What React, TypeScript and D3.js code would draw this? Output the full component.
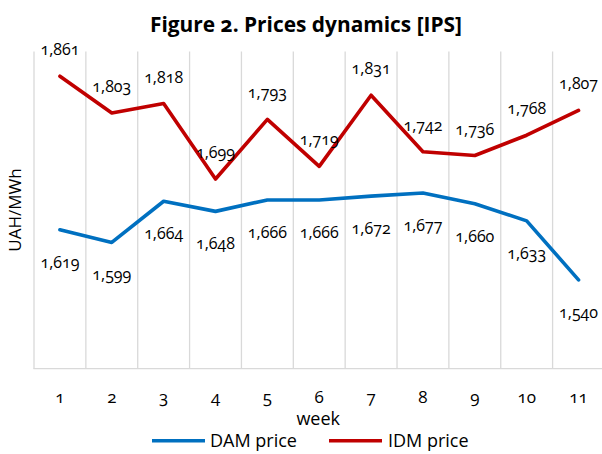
import React from "react";
import * as d3 from "d3";

const weeks = ["1", "2", "3", "4", "5", "6", "7", "8", "9", "10", "11"];
const damPrice = [1619, 1599, 1664, 1648, 1666, 1666, 1672, 1677, 1660, 1633, 1540];
const idmPrice = [1861, 1803, 1818, 1699, 1793, 1719, 1831, 1742, 1736, 1768, 1807];
const seriesNames = ["DAM price", "IDM price"];
const title = "Figure 2. Prices dynamics [IPS]";
const xTitle = "week";
const yTitle = "UAH/MWh";

const W = 602;
const H = 454;
const left = 34;
const band = 51.86;
const top = 51.5;
const bottom = 368.7;
const BLUE = "#0070C0";
const RED = "#C00000";
const GRID = "#d9d9d9";
const FONT = "'Open Sans', 'Noto Sans', sans-serif";

export default function App() {
  const x = d3.scaleBand<string>().domain(weeks).range([left, left + band * weeks.length]).padding(0);
  const y = d3.scaleLinear().domain([1400, 1900]).range([bottom, top]);
  const cx = (w: string) => (x(w) as number) + x.bandwidth() / 2;
  const line = d3
    .line<number>()
    .x((_, i) => cx(weeks[i]))
    .y((d) => y(d));

  const boundaries = d3.range(weeks.length + 1).map((i) => left + i * x.bandwidth());

  const numStyle: React.CSSProperties = { fontVariantNumeric: "oldstyle-nums" };
  const fmt = d3.format(",");

  return (
    <svg
      width={W}
      height={H}
      viewBox={`0 0 ${W} ${H}`}
      style={{ position: "absolute", left: 0, top: 0, background: "#fff", fontFamily: FONT }}
    >
      <rect x={0} y={0} width={W} height={H} fill="#fff" />
      {/* title */}
      <text
        x={306}
        y={31.7}
        textAnchor="middle"
        fontSize={21}
        fontWeight={700}
        fill="#000"
        textLength={312}
        lengthAdjust="spacingAndGlyphs"
        style={numStyle}
      >
        {title}
      </text>

      {/* vertical gridlines */}
      {boundaries.map((bx, i) => (
        <line key={i} x1={bx} x2={bx} y1={top} y2={bottom} stroke={GRID} strokeWidth={1.3} />
      ))}
      <line x1={left - 0.6} x2={W} y1={bottom} y2={bottom} stroke={GRID} strokeWidth={1.3} />

      {/* lines */}
      <path d={line(damPrice) || ""} fill="none" stroke={BLUE} strokeWidth={3.6} strokeLinejoin="round" strokeLinecap="round" />
      <path d={line(idmPrice) || ""} fill="none" stroke={RED} strokeWidth={3.6} strokeLinejoin="round" strokeLinecap="round" />

      {/* data labels */}
      {idmPrice.map((v, i) => (
        <text
          key={"i" + i}
          x={cx(weeks[i])}
          y={y(v) - 21}
          textAnchor="middle"
          fontSize={16}
          fill="#000"
          style={numStyle}
        >
          {fmt(v)}
        </text>
      ))}
      {damPrice.map((v, i) => (
        <text
          key={"d" + i}
          x={cx(weeks[i])}
          y={y(v) + 38}
          textAnchor="middle"
          fontSize={16}
          fill="#000"
          style={numStyle}
        >
          {fmt(v)}
        </text>
      ))}

      {/* category labels */}
      {weeks.map((w) => (
        <text key={w} x={cx(w)} y={403} textAnchor="middle" fontSize={17} fill="#000" style={numStyle}>
          {w}
        </text>
      ))}
      <text x={(left + left + band * weeks.length) / 2 - 1} y={425} textAnchor="middle" fontSize={18} fill="#000">
        {xTitle}
      </text>
      <text
        transform={`translate(21, ${(top + bottom) / 2}) rotate(-90)`}
        textAnchor="middle"
        fontSize={17}
        fill="#000"
      >
        {yTitle}
      </text>

      {/* legend */}
      <line x1={152} x2={205} y1={440.7} y2={440.7} stroke={BLUE} strokeWidth={3.6} />
      <text x={210} y={447} fontSize={18} fill="#000">
        {seriesNames[0]}
      </text>
      <line x1={329} x2={382} y1={440.7} y2={440.7} stroke={RED} strokeWidth={3.6} />
      <text x={388} y={447} fontSize={18} fill="#000">
        {seriesNames[1]}
      </text>
    </svg>
  );
}
